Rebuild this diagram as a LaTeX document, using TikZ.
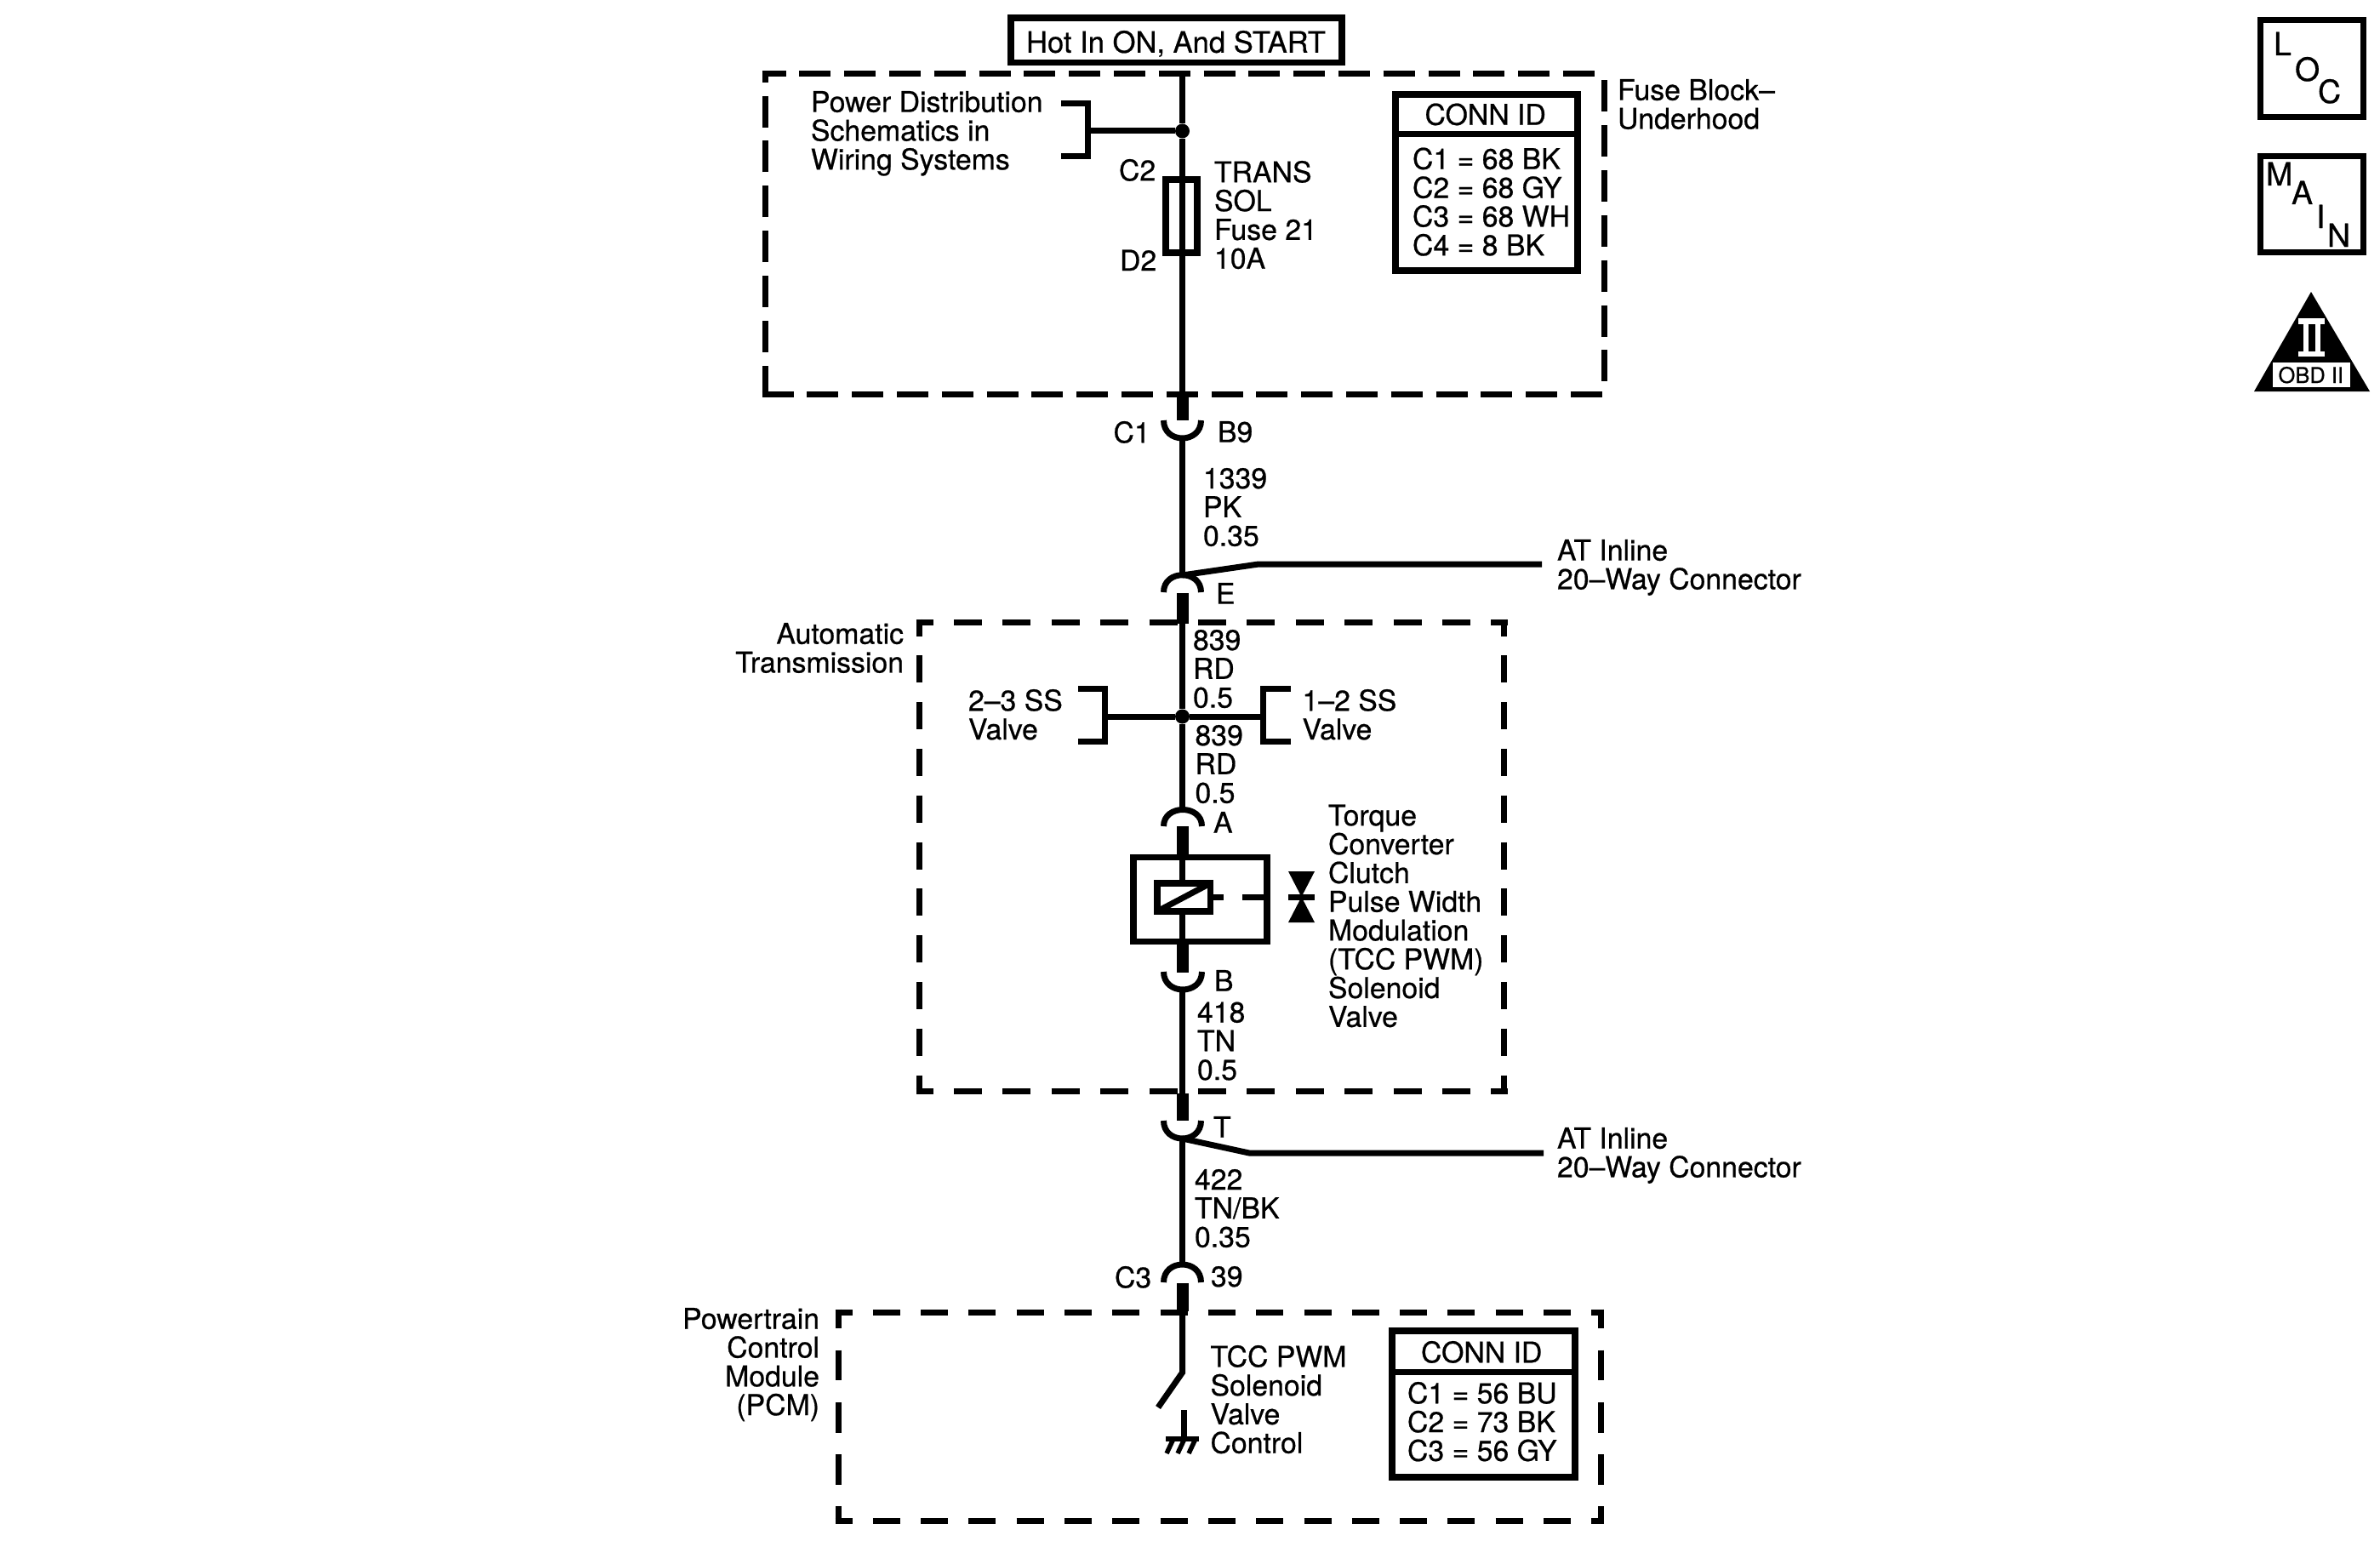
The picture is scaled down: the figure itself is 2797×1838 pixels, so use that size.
\documentclass[tikz,border=0pt]{standalone}
\usepackage{fontspec}
\setmainfont{TeX Gyre Heros}[FakeBold=0.6]
\newcommand{\ft}{\fontsize{33.8}{33.8}\selectfont}
\newcommand{\cp}{\rule{0pt}{24pt}}
\tikzset{
  x=1pt,y=-1pt,
  txt/.style={anchor=north west,inner sep=0pt,outer sep=0pt,align=left,font=\ft,text=black},
  txtr/.style={anchor=north east,inner sep=0pt,outer sep=0pt,align=right,font=\ft,text=black},
  big/.style={inner sep=0pt,outer sep=0pt,font=\fontsize{37.5}{38}\selectfont,anchor=base west,text=black},
  wire/.style={draw=black,line width=7pt,line cap=butt,line join=miter},
  plug/.style={draw=black,line width=14pt,line cap=butt},
  bx/.style={draw=black,line width=7.5pt,rectangle,inner sep=0pt,outer sep=0pt,fill=none},
  dotj/.style={circle,fill=black,draw=none,minimum size=17pt,inner sep=0pt},
  dfuse/.style={draw=black,line width=7pt,dash pattern=on 37pt off 15.8pt},
  dtrans/.style={draw=black,line width=7pt},
  dpcm/.style={draw=black,line width=7pt},
}
\begin{document}
\begin{tikzpicture}
\useasboundingbox (0,0) rectangle (2797,1838);
\fill[white] (0,0) rectangle (2797,1838);
% top label
\node[bx,minimum width=389pt,minimum height=52.5pt] (hot) at (1382.5,47.5) {};
\node[txt,font=\fontsize{34.6}{34}\selectfont] (hotT) at (1206,36) {\cp Hot In ON, And START};
% fuse block dashed
\draw[dfuse,dash phase=9pt] (895.5,87) -- (1888.5,87);
\draw[dfuse] (1885,94.5) -- (1885,463);
\draw[dfuse] (895.5,463) -- (1888.5,463);
\draw[dfuse] (899,466.5) -- (899,83.5);
% transmission dashed
\draw[dtrans,dash pattern=on 33pt off 24.4pt,dash phase=13pt] (1076.5,731) -- (1771.5,731);
\draw[dtrans,dash pattern=on 33pt off 24.4pt,dash phase=13pt] (1076.5,1282) -- (1771.5,1282);
\draw[dtrans,dash pattern=on 32pt off 22.8pt,dash phase=12pt] (1080,727.5) -- (1080,1285.5);
\draw[dtrans,dash pattern=on 32pt off 22.8pt,dash phase=12pt] (1767,727.5) -- (1767,1285.5);
% pcm dashed
\draw[dpcm,dash pattern=on 32pt off 24.3pt,dash phase=12pt] (981.5,1542) -- (1885,1542);
\draw[dpcm,dash pattern=on 32pt off 24.3pt,dash phase=12pt] (981.5,1787) -- (1885,1787);
\draw[dpcm,dash pattern=on 35.6pt off 25.6pt,dash phase=13pt] (985,1538.5) -- (985,1790.5);
\draw[dpcm,dash pattern=on 35.6pt off 25.6pt,dash phase=13pt] (1881.5,1538.5) -- (1881.5,1790.5);
% coordinates along the wire
\coordinate (w0) at (1389.5,87);
\node[dotj] (j1) at (1389.5,154) {};
\coordinate (w1) at (1389.5,463);
\coordinate (w2) at (1389.5,494);
\coordinate (c1l) at (1367.5,494);
\coordinate (c1r) at (1411.5,494);
\coordinate (c1b) at (1389.5,515);
\coordinate (etop) at (1389.5,676);
\coordinate (el) at (1367.5,696);
\coordinate (er) at (1411.5,696);
\coordinate (e1) at (1389.5,697);
\coordinate (e2) at (1389.5,733);
\node[dotj] (j2) at (1389.5,842) {};
\coordinate (atop) at (1389.5,951.5);
\coordinate (al) at (1367.5,971);
\coordinate (ar) at (1412.5,971);
\coordinate (a1) at (1389.5,971);
\coordinate (bl) at (1367.5,1142);
\coordinate (br) at (1412.5,1142);
\coordinate (bbot) at (1389.5,1163);
\coordinate (t0) at (1389.5,1285);
\coordinate (t1) at (1389.5,1317);
\coordinate (tl) at (1367.5,1317);
\coordinate (tr) at (1411.5,1317);
\coordinate (tbot) at (1389.5,1338);
\coordinate (c3top) at (1389.5,1486);
\coordinate (c3l) at (1367.5,1507);
\coordinate (c3r) at (1411.5,1507);
\coordinate (p0) at (1389.5,1508);
\coordinate (p1) at (1389.5,1541);
\coordinate (sw0) at (1389.5,1613);
\coordinate (sw1) at (1361,1654);
\coordinate (g0) at (1391,1657);
\coordinate (g1) at (1391,1691);
% wires
\draw[wire] (w0) -- (j1);
\draw[wire] (j1) -- (w1);
\draw[plug] (w1) -- (w2);
\draw[wire] (c1l) .. controls (1367.5,522) and (1411.5,522) .. (c1r);
\draw[wire] (c1b) -- (etop);
\draw[wire] (el) .. controls (1367.5,669) and (1411.5,669) .. (er);
\coordinate (b1a) at (1479,663);
\coordinate (b1b) at (1812,663);
\draw[wire] (etop) -- (b1a) -- (b1b);
\draw[plug] (e1) -- (e2);
\draw[wire] (e2) -- (j2);
\draw[wire] (j2) -- (atop);
\draw[wire] (al) .. controls (1367.5,945) and (1412.5,945) .. (ar);
% power distribution bracket
\coordinate (pdT) at (1247,122);
\coordinate (pdTc) at (1278,122);
\coordinate (pdM) at (1278,154);
\coordinate (pdBc) at (1278,184);
\coordinate (pdB) at (1247,184);
\draw[wire] (pdT) -- (pdTc) -- (pdBc) -- (pdB);
\draw[wire] (pdM) -- (j1);
% fuse
\node[bx,minimum width=37pt,minimum height=86pt] (fuse) at (1388.5,254) {};
% valve brackets
\coordinate (v23T) at (1267,809);
\coordinate (v23Tc) at (1298.5,809);
\coordinate (v23M) at (1298.5,842);
\coordinate (v23Bc) at (1298.5,871.5);
\coordinate (v23B) at (1267,871.5);
\draw[wire] (v23T) -- (v23Tc) -- (v23Bc) -- (v23B);
\draw[wire] (v23M) -- (j2);
\coordinate (v12T) at (1516.5,809);
\coordinate (v12Tc) at (1484.5,809);
\coordinate (v12M) at (1484.5,842);
\coordinate (v12Bc) at (1484.5,871.5);
\coordinate (v12B) at (1516.5,871.5);
\draw[wire] (v12T) -- (v12Tc) -- (v12Bc) -- (v12B);
\draw[wire] (v12M) -- (j2);
% solenoid
\node[bx,minimum width=157pt,minimum height=99pt] (sol) at (1410.25,1057) {};
\node[bx,minimum width=62.5pt,minimum height=33pt] (coil) at (1391.25,1054.5) {};
\draw[plug] (a1) -- (sol.north -| a1);
\draw[wire] (sol.north -| a1) -- (coil.north -| a1);
\draw[wire] (coil.south -| a1) -- (sol.south -| a1);
\draw[wire] (coil.south west) -- (coil.north east);
\draw[plug] (sol.south -| a1) -- (1389.5,1143);
\draw[wire] (bl) .. controls (1367.5,1170) and (1412.5,1170) .. (br);
\coordinate (m1) at (1438,1054);
\coordinate (m2) at (1460,1054);
\draw[wire] (coil.east |- m1) -- (m1);
\draw[wire] (m2) -- (sol.east |- m2);
\fill[black] (1514,1024) -- (1545,1024) -- (1529.5,1054) -- cycle;
\fill[black] (1514,1084) -- (1545,1084) -- (1529.5,1054) -- cycle;
\fill[black] (1514,1050.5) rectangle (1545,1057.5);
\draw[wire] (bbot) -- (t0);
\draw[plug] (t0) -- (t1);
\draw[wire] (tl) .. controls (1367.5,1345) and (1411.5,1345) .. (tr);
\coordinate (b2a) at (1468,1355);
\coordinate (b2b) at (1814,1355);
\draw[wire] (tbot) -- (b2a) -- (b2b);
\draw[wire] (tbot) -- (c3top);
\draw[wire] (c3l) .. controls (1367.5,1479) and (1411.5,1479) .. (c3r);
\draw[plug] (p0) -- (p1);
\draw[wire] (p1) -- (sw0) -- (sw1);
\draw[wire] (g0) -- (g1);
\draw[draw=black,line width=5.5pt] (1370,1691) -- (1409,1691);
\draw[draw=black,line width=5.5pt] (1379,1691) -- (1371,1708);
\draw[draw=black,line width=5.5pt] (1392,1691) -- (1384,1708);
\draw[draw=black,line width=5.5pt] (1405,1691) -- (1397,1708);
% conn boxes
\node[bx,minimum width=214pt,minimum height=207pt] (connA) at (1747,214.5) {};
\draw[wire] (connA.west |- 0,157.5) -- (connA.east |- 0,157.5);
\node[bx,minimum width=215pt,minimum height=172pt] (connB) at (1743.5,1650) {};
\draw[wire] (connB.west |- 0,1612) -- (connB.east |- 0,1612);
% texts
\node[txt] (t1a) at (953,107) {\cp Power Distribution\\Schematics in\\Wiring Systems};
\node[txt] (t2) at (1315,187) {\cp C2};
\node[txt] (t3) at (1316,293.5) {\cp D2};
\node[txt] (t4) at (1427,189) {\cp TRANS\\SOL\\Fuse 21\\10A};
\node[txt] (t5) at (1901,93) {\cp Fuse Block–\\Underhood};
\node[txt] (t6) at (1674.5,121.5) {\cp CONN ID};
\node[txt] (t7) at (1660,173.5) {\cp C1 = 68 BK\\C2 = 68 GY\\C3 = 68 WH\\C4 = 8 BK};
\node[txt] (t8) at (1308.5,495) {\cp C1};
\node[txt] (t9) at (1431,495) {\cp B9};
\node[txt] (t10) at (1414,550) {\cp 1339\\PK\\0.35};
\node[txt] (t11) at (1429,685) {\cp E};
\node[txt] (t12) at (1830,634) {\cp AT Inline\\20–Way Connector};
\node[txtr] (t13) at (1062,732) {\cp Automatic\\Transmission};
\node[txt] (t14) at (1402,740) {\cp 839\\RD\\0.5};
\node[txt] (t15) at (1138,810) {\cp 2–3 SS\\Valve};
\node[txt] (t16) at (1530.5,810) {\cp 1–2 SS\\Valve};
\node[txt] (t17) at (1404.5,852) {\cp 839\\RD\\0.5};
\node[txt] (t18) at (1426,954) {\cp A};
\node[txt] (t19) at (1561,945.5) {\cp Torque\\Converter\\Clutch\\Pulse Width\\Modulation\\(TCC PWM)\\Solenoid\\Valve};
\node[txt] (t20) at (1427,1140) {\cp B};
\node[txt] (t21) at (1407,1177.5) {\cp 418\\TN\\0.5};
\node[txt] (t22) at (1426,1312) {\cp T};
\node[txt] (t23) at (1830,1325) {\cp AT Inline\\20–Way Connector};
\node[txt] (t24) at (1404,1374) {\cp 422\\TN/BK\\0.35};
\node[txt] (t25) at (1310,1488) {\cp C3};
\node[txt] (t26) at (1423,1488) {\cp 39};
\node[txtr] (t27) at (963,1537) {\cp Powertrain\\Control\\Module\\(PCM)};
\node[txt] (t28) at (1422.5,1581) {\cp TCC PWM\\Solenoid\\Valve\\Control};
\node[txt] (t29) at (1670,1576) {\cp CONN ID};
\node[txt] (t30) at (1654,1624) {\cp C1 = 56 BU\\C2 = 73 BK\\C3 = 56 GY};
% LOC
\node[bx,minimum width=121pt,minimum height=114pt] (loc) at (2717,80.5) {};
\node[big] (locL) at (2672,65) {L};
\node[big] (locO) at (2697,95) {O};
\node[big] (locC) at (2724,121) {C};
% MAIN
\node[bx,minimum width=121pt,minimum height=113pt] (main) at (2717,240) {};
\node[big] (mM) at (2663,218) {M};
\node[big] (mA) at (2693,240) {A};
\node[big] (mI) at (2722,268) {I};
\node[big] (mN) at (2735,290) {N};
% OBD triangle
\fill[black] (2716,343) -- (2785,460) -- (2649,460) -- cycle;
\fill[white] (2701,374) rectangle (2732,381);
\fill[white] (2707,381) rectangle (2713,413);
\fill[white] (2721,381) rectangle (2727,413);
\fill[white] (2701,413) rectangle (2732,419);
\fill[white] (2671,426) rectangle (2762,455);
\node[inner sep=0pt,outer sep=0pt,anchor=base west,font=\fontsize{25.5}{26}\selectfont,text=black] (obd) at (2677.5,450) {OBD II};
\end{tikzpicture}
\end{document}
